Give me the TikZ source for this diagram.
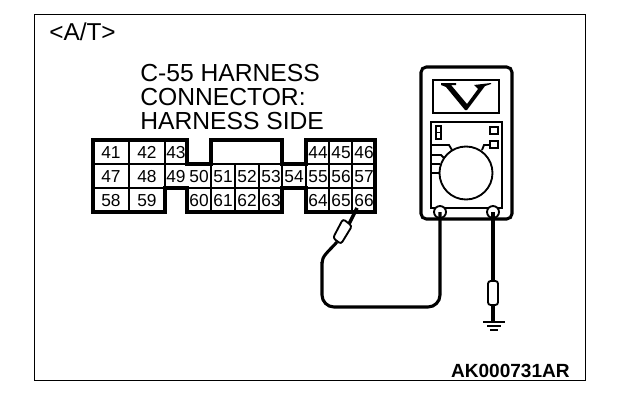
\documentclass[tikz,border=0pt]{standalone}
\usepackage{fontspec}
\setmainfont{Liberation Sans}
\begin{document}
\begin{tikzpicture}[x=0.75pt,y=-0.75pt,line join=miter,
  fineline/.style={line width=1pt},
  midline/.style={line width=1.4pt},
  heavyline/.style={line width=2.3pt},
  cell/.style={inner sep=0pt,anchor=base,font=\fontsize{13}{13}\selectfont},
  title/.style={inner sep=0pt,anchor=base west,font=\fontsize{18.5}{18.5}\selectfont}]
\useasboundingbox (0,0) rectangle (624,410);
\fill[white] (0,0) rectangle (624,410);
\node[draw,fineline,minimum width=551*0.75pt,minimum height=366*0.75pt,inner sep=0pt,anchor=north west] (frame) at (34,14) {};
\node[inner sep=0pt,anchor=base west,font=\fontsize{18.3}{18.3}\selectfont] (tag) at (49,41) {<A/T>};
\node[title] (t1) at (140,81) {C-55 HARNESS};
\node[title] (t2) at (140,105) {CONNECTOR:};
\node[title] (t3) at (140,129) {HARNESS SIDE};
% connector grid
\draw[fineline] (93,164)--(375,164) (93,188)--(375,188);
\draw[fineline] (129,140)--(129,212) (165,140)--(165,188) (211,164)--(211,212) (235,164)--(235,212)
  (259,164)--(259,212) (282,164)--(282,188) (306,164)--(306,188) (329,140)--(329,212) (352,140)--(352,212);
\draw[heavyline] (93,140)--(187,140)--(187,164)--(211,164)--(211,140)--(282,140)--(282,164)--(306,164)--(306,140)--(375,140)--(375,212)--(306,212)--(306,188)--(282,188)--(282,212)--(187,212)--(187,188)--(165,188)--(165,212)--(93,212)--cycle;
\foreach \t/\x/\y in {41/111/158,42/147/158,43/176/158,44/318/158,45/341/158,46/364/158,
  47/111/182,48/147/182,49/176/182,50/199/182,51/223/182,52/247/182,53/271/182,54/294/182,55/318/182,56/341/182,57/364/182,
  58/111/206,59/147/206,60/199/206,61/223/206,62/247/206,63/271/206,64/318/206,65/341/206,66/364/206}
  \node[cell] (c\t) at (\x,\y) {\t};
% meter
\draw[heavyline,rounded corners=4pt] (421,67) rectangle (512,219);
\draw[midline] (433,80) rectangle (499,113);
\draw[midline] (431,122) rectangle (502,208);
\fill (441,83)--(456,83)--(456,85)--(451,85)--(467,104)--(478,89)--(474,85)--(491,83)--(491,84)--(485,86)--(467,110)--(465,110)--(446,87)--(441,85)--cycle;
\node[draw,midline,circle,minimum size=53*0.75pt,inner sep=0pt] (dial) at (466,173) {};
\draw[midline] (436,126) rectangle (441,139) (436,132.5)--(441,132.5);
\draw[midline] (490,127) rectangle (498,134);
\draw[midline] (490,141) rectangle (498,148);
\draw[midline] (431,145)--(449,145)--(452,150);
\draw[midline] (431,155)--(441,155)--(444,158);
\draw[midline] (431,164)--(440,164);
\draw[midline] (431,173)--(439,173);
\draw[midline] (482,150)--(484,145)--(490,145);
% leads
\node[draw,midline,minimum width=10*0.75pt,minimum height=24*0.75pt,inner sep=0pt,rounded corners=2pt] (res) at (493,293) {};
\coordinate (gnd) at (493,322);
\coordinate (pin) at (357,208);
\coordinate (bodytop) at (349,224);
\coordinate (bodybot) at (337,242);
\node[draw,fill=white,midline,circle,minimum size=12*0.75pt,inner sep=0pt] (ta) at (440,212) {};
\node[draw,fill=white,midline,circle,minimum size=12*0.75pt,inner sep=0pt] (tb) at (493,212) {};
\draw[heavyline,rounded corners=9pt] (ta.center)--(440,307)--(322,307)--(322,262);
\draw[heavyline] (322,263)..controls (322,256) and (328,252)..(bodybot);
\draw[heavyline] (tb.center)--(res.north) (res.south)--(gnd);
\draw[line width=2.6pt] (bodytop)--(pin);
\draw[midline,rounded corners=2pt] (343,219)--(352,226)--(341,244)--(333,238)--cycle;
\draw[midline] (483,322)--(505,322);
\draw[midline] (487,326)--(501,326);
\draw[midline] (490,330)--(498,330);
\node[inner sep=0pt,anchor=base east,font=\bfseries\fontsize{14.3}{14.3}\selectfont] (code) at (570,377) {AK000731AR};
\end{tikzpicture}
\end{document}
